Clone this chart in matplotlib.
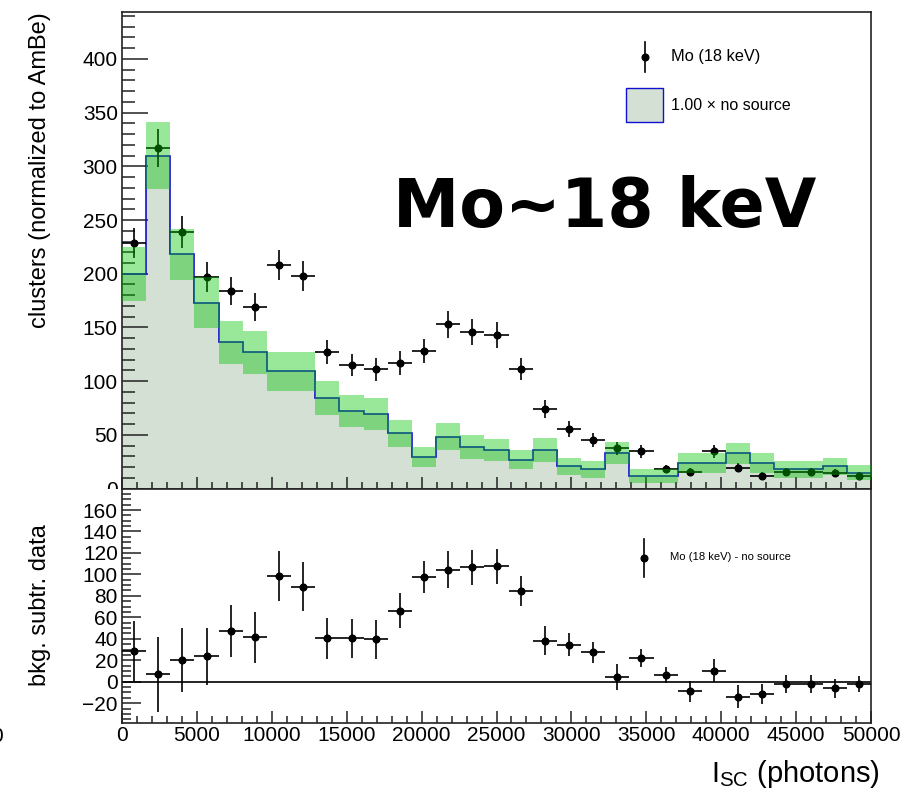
import numpy as np
import matplotlib
matplotlib.use("Agg")
import matplotlib.pyplot as plt
from matplotlib.lines import Line2D
from matplotlib.patches import Rectangle
from matplotlib.transforms import Bbox, TransformedBbox

plt.rcParams['font.family'] = ['Liberation Sans', 'DejaVu Sans']
plt.rcParams['mathtext.fontset'] = 'custom'
plt.rcParams['mathtext.rm'] = 'Liberation Sans'
plt.rcParams['mathtext.it'] = 'Liberation Sans:italic'

# ---------------- data ----------------
x_min, x_max, n_bins = 0, 50000, 31
edges = np.linspace(x_min, x_max, n_bins + 1)
centers = 0.5 * (edges[:-1] + edges[1:])
half_w = 0.5 * (edges[1] - edges[0])

mo_counts = [229, 317, 239, 197, 184, 169, 208, 198, 127, 115, 111, 117, 128, 153, 146, 143,
             111, 74, 55, 45, 37.3, 34.5, 18.3, 15.5, 34.5, 19.3, 12.1, 15.2, 15.2, 14.6, 12.1]
mo_err = [14, 17.5, 15, 14, 13.4, 13, 14.3, 14, 11.2, 10.6, 10.6, 10.9, 11.3, 12.4, 12, 12,
          10.4, 8.5, 7.5, 6.8, 6.2, 5.7, 4, 4, 5.7, 4.2, 3.5, 4, 4, 3.8, 3.5]

bkg_counts = [200, 310, 218, 173, 136, 127, 109, 109, 84.5, 72.5, 69.5, 51.5, 29.5, 48, 39, 35.7,
              26.7, 35.7, 20.8, 17.7, 32.9, 11.5, 11.5, 23.6, 23.6, 32.6, 23.6, 17.7, 17.7, 20.8, 14.6]
bkg_err = [25, 31, 24, 23.7, 20, 20, 18.5, 18.5, 16, 14.8, 14.7, 12.5, 9.6, 12.6, 11.2, 10.4,
           9, 11, 8, 7.5, 10, 6.3, 6.3, 9, 9, 10, 9, 7.5, 7.5, 8, 7]

sub_counts = [28.6, 6.9, 19.9, 23.6, 47.2, 41.3, 98.5, 88.5, 40.4, 40.4, 39.5, 66.2, 97.6, 104.4,
              106.6, 107.5, 84.5, 38.2, 34.5, 27.4, 4.1, 22.4, 6.5, -9, 10.3, -14, -11.8, -2.5,
              -2.5, -6.2, -2.5]
sub_err = [28.3, 35, 29.8, 26.7, 24.2, 23.5, 23, 23, 19.4, 18.3, 17.9, 16.5, 15, 17.4, 16.3, 16,
           13.8, 13.7, 10.9, 10, 12, 8.4, 7.3, 9.6, 10.6, 10.9, 9.3, 8.4, 8.4, 8.9, 7.5]

top_yticks = [0, 50, 100, 150, 200, 250, 300, 350, 400]
bot_yticks = [-20, 0, 20, 40, 60, 80, 100, 120, 140, 160]
xticks = [0, 5000, 10000, 15000, 20000, 25000, 30000, 35000, 40000, 45000, 50000]

legend_data = "Mo (18 keV)"
legend_bkg = "1.00 \u00d7 no source"
legend_sub = "Mo (18 keV) - no source"
annot = "Mo~18 keV"

# ---------------- style ----------------
W, H = 908, 796
fill_c = '#d3e0d3'
line_c = '#1010d0'
band_c = (0.0, 0.77, 0.0, 0.40)

fig = plt.figure(figsize=(W / 100, H / 100), dpi=100)

def fx(px):
    return px / W

def fy(py):
    return 1 - py / H

ax_left, ax_right = 122, 871
top_y0, top_y1 = 11.7, 488.5
bot_y0, bot_y1 = 489, 723

ax1 = fig.add_axes([fx(ax_left), fy(top_y1), fx(ax_right - ax_left), (top_y1 - top_y0) / H])
ax2 = fig.add_axes([fx(ax_left), fy(bot_y1), fx(ax_right - ax_left), (bot_y1 - bot_y0) / H])

# top panel
ax1.stairs(bkg_counts, edges, fill=True, color=fill_c, zorder=1)
ax1.stairs(bkg_counts, edges, color=line_c, linewidth=1.2, zorder=2, baseline=None)
ax1.errorbar(centers, mo_counts, xerr=half_w, yerr=mo_err, fmt='o', color='black',
             markersize=4.8, elinewidth=1.2, capsize=0, zorder=3)
ax1.bar(centers, 2 * np.array(bkg_err), bottom=np.array(bkg_counts) - np.array(bkg_err),
        width=edges[1] - edges[0], color=band_c, linewidth=0, zorder=4)

ax1.set_xlim(x_min, x_max)
ax1.set_ylim(0, 444)

# bottom panel
ax2.axhline(0, color='black', linewidth=1.2, zorder=2)
ax2.errorbar(centers, sub_counts, xerr=half_w, yerr=sub_err, fmt='o', color='black',
             markersize=4.8, elinewidth=1.2, capsize=0, zorder=3)
ax2.set_xlim(x_min, x_max)
ax2.set_ylim(-38.5, 179.6)

for ax in (ax1, ax2):
    for s in ax.spines.values():
        s.set_linewidth(1.2)
        s.set_color('#222222')
    ax.set_xticks(xticks)
    ax.xaxis.set_minor_locator(matplotlib.ticker.MultipleLocator(1000))
    ax.tick_params(axis='both', which='both', direction='in', top=False, right=False,
                   width=1.1, color='#222222', labelsize=15)

ax1.set_yticks(top_yticks)
ax1.yaxis.set_minor_locator(matplotlib.ticker.MultipleLocator(10))
ax1.tick_params(axis='y', which='major', length=19, pad=3)
ax1.tick_params(axis='y', which='minor', length=9.5)
ax1.tick_params(axis='x', which='major', length=8.4, labelbottom=False)
ax1.tick_params(axis='x', which='minor', length=4.8)

ax2.set_yticks(bot_yticks)
ax2.yaxis.set_minor_locator(matplotlib.ticker.MultipleLocator(5))
ax2.tick_params(axis='y', which='major', length=13.5, pad=3)
ax2.tick_params(axis='y', which='minor', length=6.5)
ax2.tick_params(axis='x', which='major', length=8.4, pad=2)
ax2.tick_params(axis='x', which='minor', length=4.8)

# clip the "0" label of the top panel at the pad boundary
clip = TransformedBbox(Bbox([[0, fy(bot_y0)], [1, 1]]), fig.transFigure)
for t in ax1.yaxis.get_major_ticks():
    t.label1.set_clip_box(clip)
    t.label1.set_clip_on(True)

# axis titles
fig.text(fx(40), fy(12), "clusters (normalized to AmBe)", rotation=90, ha='center', va='top',
         fontsize=17)
fig.text(fx(40), fy(605), "bkg. subtr. data", rotation=90, ha='center', va='center', fontsize=17)
fig.text(fx(880), fy(774), r"I$_{\mathrm{SC}}$ (photons)", ha='right', va='center', fontsize=21)
fig.text(fx(-3), fy(737), "0", ha='center', va='center', fontsize=15)

# annotation
fig.text(fx(605), fy(208), annot, ha='center', va='center', fontsize=48, fontweight='bold',
         family='DejaVu Sans')

# legends (top)
fig.add_artist(Line2D([fx(644.5), fx(644.5)], [fy(41.7), fy(71.7)], color='black', lw=1.2))
fig.add_artist(Line2D([fx(644.5)], [fy(56.7)], marker='o', color='black', markersize=4.8))
fig.text(fx(670.7), fy(56.7), legend_data, ha='left', va='center', fontsize=11.8)
fig.add_artist(Rectangle((fx(625.7), fy(122.3)), fx(37), 34 / H, facecolor=fill_c,
                         edgecolor=line_c, linewidth=1.0))
fig.text(fx(670.7), fy(106), legend_bkg, ha='left', va='center', fontsize=11.5)

# legend (bottom)
fig.add_artist(Line2D([fx(644.3), fx(644.3)], [fy(539), fy(576.7)], color='black', lw=1.2))
fig.add_artist(Line2D([fx(644.3)], [fy(557.7)], marker='o', color='black', markersize=4.8))
fig.text(fx(670), fy(557.5), legend_sub, ha='left', va='center', fontsize=8.1)

fig.savefig("out.png", dpi=100)
